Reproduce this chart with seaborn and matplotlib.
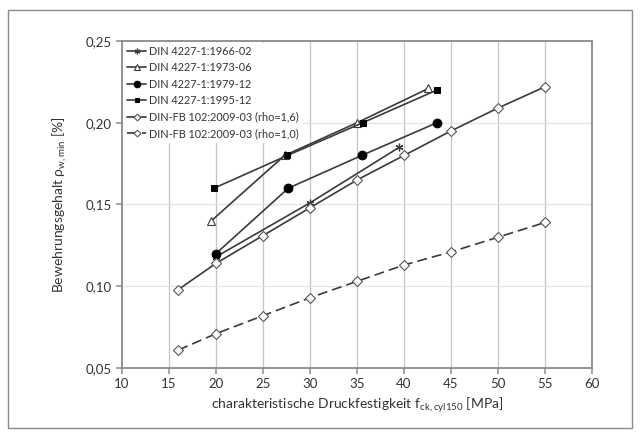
import matplotlib
matplotlib.use("Agg")
import matplotlib.pyplot as plt
import seaborn as sns
import pandas as pd
from matplotlib.patches import Rectangle

# ---- data ----
x_1966 = [20, 30, 39.5]
y_1966 = [0.118, 0.151, 0.185]

x_1973 = [19.5, 27.3, 35.0, 42.6]
y_1973 = [0.140, 0.180, 0.200, 0.221]

x_1979 = [20, 27.7, 35.5, 43.5]
y_1979 = [0.120, 0.160, 0.180, 0.200]

x_1995 = [19.8, 27.6, 35.6, 43.5]
y_1995 = [0.160, 0.180, 0.200, 0.220]

x_fb = [16, 20, 25, 30, 35, 40, 45, 50, 55]
y_fb16 = [0.098, 0.114, 0.131, 0.148, 0.165, 0.180, 0.195, 0.209, 0.222]
y_fb10 = [0.061, 0.071, 0.082, 0.093, 0.103, 0.113, 0.121, 0.130, 0.139]

labels = ["DIN 4227-1:1966-02", "DIN 4227-1:1973-06", "DIN 4227-1:1979-12",
          "DIN 4227-1:1995-12", "DIN-FB 102:2009-03 (rho=1,6)",
          "DIN-FB 102:2009-03 (rho=1,0)"]

x_ticks = [10, 15, 20, 25, 30, 35, 40, 45, 50, 55, 60]
x_tick_labels = ["10", "15", "20", "25", "30", "35", "40", "45", "50", "55", "60"]
y_ticks = [0.05, 0.10, 0.15, 0.20, 0.25]
y_tick_labels = ["0,05", "0,10", "0,15", "0,20", "0,25"]

sns.set_theme(style="white")
plt.rcParams['font.family'] = ['Lato', 'DejaVu Sans']
plt.rcParams['mathtext.fontset'] = 'custom'
plt.rcParams['mathtext.rm'] = 'Lato'

fig = plt.figure(figsize=(6.4, 4.37), dpi=100)
ax = fig.add_axes([122/640, 1-368/437, 470/640, 327/437])

lc = "#3a3a3a"
series = [
    (x_1966, y_1966, dict(marker=(6, 2, 0), markersize=5.5, markerfacecolor=lc, markeredgecolor=lc, markeredgewidth=0.9), "-"),
    (x_1973, y_1973, dict(marker="^", markersize=5.5, markerfacecolor="white", markeredgecolor=lc, markeredgewidth=0.8), "-"),
    (x_1979, y_1979, dict(marker="o", markersize=6.3, markerfacecolor="black", markeredgecolor="black"), "-"),
    (x_1995, y_1995, dict(marker="s", markersize=4.2, markerfacecolor="black", markeredgecolor="black"), "-"),
    (x_fb, y_fb16, dict(marker="D", markersize=4.6, markerfacecolor="white", markeredgecolor="#555555", markeredgewidth=0.8), "-"),
    (x_fb, y_fb10, dict(marker="D", markersize=4.6, markerfacecolor="white", markeredgecolor="#555555", markeredgewidth=0.8), "--"),
]

for (xs, ys, mk, ls), lab in zip(series, labels):
    df = pd.DataFrame({"x": xs, "y": ys})
    sns.lineplot(data=df, x="x", y="y", ax=ax, color=lc, linewidth=1.2,
                 linestyle=ls, label=lab, sort=False, zorder=3, **mk)
    if ls == "--":
        ax.lines[-1].set_dashes([6, 3])

ax.set_xlim(10, 60)
ax.set_ylim(0.05, 0.25)
ax.set_xticks(x_ticks)
ax.set_xticklabels(x_tick_labels)
ax.set_yticks(y_ticks)
ax.set_yticklabels(y_tick_labels)
ax.tick_params(axis="both", labelsize=9.5, colors="#333333", length=4,
               direction="out", bottom=True, left=True, color="#999999")

for v in x_ticks[1:-1]:
    ax.axvline(v, color="#c4c4c4", linewidth=0.9, zorder=1)
for v in y_ticks[1:-1]:
    ax.axhline(v, color="#e4e4e4", linewidth=0.9, zorder=1)

for s in ax.spines.values():
    s.set_color("#8a8a8a")
    s.set_linewidth(1.3)

ax.set_xlabel("charakteristische Druckfestigkeit f$_{\\mathregular{ck,cyl150}}$ [MPa]",
              fontsize=10, color="#333333", labelpad=3)
ax.set_ylabel("Bewehrungsgehalt ρ$_{\\mathregular{w,min}}$ [%]",
              fontsize=10, color="#333333", labelpad=12)

leg = ax.legend(loc="upper left", fontsize=7.8, frameon=True, fancybox=False,
                framealpha=1, edgecolor="white", handlelength=1.8,
                handletextpad=0.2, borderpad=0.3, labelspacing=0.5,
                borderaxespad=0.15, markerscale=0.75)
for t in leg.get_texts():
    t.set_color("#333333")

fig.patches.append(Rectangle((8/640, 1-428/437), 624/640, 418/437,
                             transform=fig.transFigure, fill=False,
                             edgecolor="#8a8a8a", linewidth=1.0))

fig.savefig("out.png", dpi=100)
